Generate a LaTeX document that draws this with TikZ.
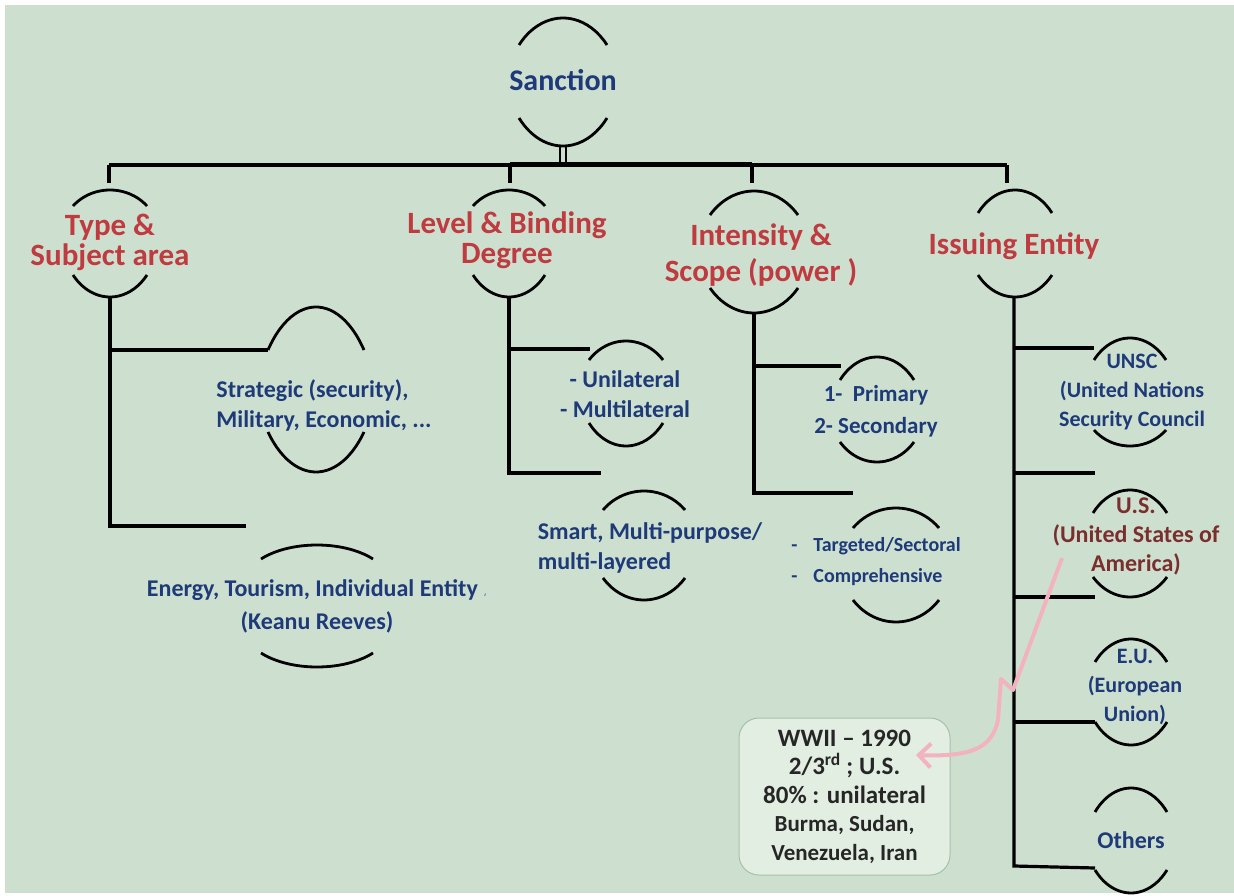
\documentclass[tikz,border=0pt]{standalone}
\usepackage{fontspec}
\setmainfont{Carlito}
\newfontfamily\arabicfont[Script=Arabic]{DejaVu Sans}
\usetikzlibrary{arrows.meta}
\definecolor{bg}{HTML}{CDE0D0}
\definecolor{headred}{HTML}{BF3B3F}
\definecolor{subblue}{HTML}{1E3A78}
\definecolor{usred}{HTML}{7B2E2E}
\definecolor{boxfill}{HTML}{E3EEE3}
\definecolor{boxline}{HTML}{A6BFA8}
\definecolor{pinkline}{HTML}{F2B3BE}
\definecolor{boxtext}{HTML}{262626}
\newcommand\cutnode[7]{%
  \pgfmathsetmacro\cnra{#3/cos(40)}%
  \pgfmathsetmacro\cnrbt{(#4-#5)/(1-sin(40))}%
  \pgfmathsetmacro\cnrbb{(#7-#6)/(1-sin(40))}%
  \coordinate (#1-top) at (#2,#5);
  \coordinate (#1-bot) at (#2,#7);
  \coordinate (#1-tl) at (#2-#3,#4);
  \coordinate (#1-bl) at (#2-#3,#6);
  \draw[arcline] (#1-tl) arc[start angle=220,end angle=320,x radius=\cnra,y radius=\cnrbt];
  \draw[arcline] (#1-bl) arc[start angle=140,end angle=40,x radius=\cnra,y radius=\cnrbb];
}
\begin{document}
\begin{tikzpicture}[x=1pt,y=-1pt,
  conn/.style={line width=3.2pt,black},
  arcline/.style={line width=2.8pt,black},
  head/.style={text=headred,font=\bfseries\fontsize{31}{30}\selectfont,align=center,inner sep=0pt},
  sub/.style={text=subblue,font=\bfseries\fontsize{24}{30}\selectfont,align=center,inner sep=0pt},
  pinkarrow/.style={line width=4pt,pinkline,line join=round,-{Straight Barb[length=12pt,width=24pt]}},
  notebox/.style={draw=boxline,line width=1pt,fill=boxfill,rounded corners=20pt,minimum width=211pt,minimum height=157pt,inner sep=0pt,align=center,text=boxtext,font=\bfseries\fontsize{25}{28.5}\selectfont}
]
\useasboundingbox (0,0) rectangle (1234,896);
\fill[white] (0,0) rectangle (1234,896);
\fill[bg] (5,5) rectangle (1234,893);

% cut circles
\cutnode{san}{563}{44}{45}{18}{118}{146}
\cutnode{typ}{110}{37}{206}{190}{275}{297}
\cutnode{lev}{509}{36}{206}{190}{275}{297}
\cutnode{int}{754}{44}{215}{191}{288}{313}
\cutnode{iss}{1015}{37}{213}{190}{275}{297}
\cutnode{str}{316}{48}{350}{307}{432}{472}
\cutnode{ene}{317}{56}{559}{545}{653}{667}
\cutnode{uni}{626}{37}{360}{341}{423}{446}
\cutnode{sma}{644}{41}{510}{491}{578}{600}
\cutnode{pri}{877}{37}{380}{357}{442}{462}
\cutnode{tar}{896}{43}{528}{508}{600}{622}
\cutnode{uns}{1130}{36}{360}{338}{430}{446}
\cutnode{uss}{1130}{37}{513}{490}{577}{597}
\cutnode{eun}{1131}{36}{662}{639}{722}{745}
\cutnode{oth}{1131}{36}{812}{788}{870}{893}

% bus coordinates
\coordinate (b1) at (109,165);
\coordinate (b2) at (510,165);
\coordinate (b3) at (752,165);
\coordinate (b4) at (1007,165);
\draw[conn,line width=2.4pt] ([xshift=-3pt]san-bot) -- ([xshift=-3pt]san-bot |- b1);
\draw[conn,line width=2.4pt] ([xshift=3pt]san-bot) -- ([xshift=3pt]san-bot |- b1);
\draw[conn] (b1) -- (b4);
\draw[conn] ([yshift=1.5pt]b2) -- ([yshift=1.5pt]b3);
\draw[conn] (b1) -- ++(0,18);
\draw[conn] (b2) -- ++(0,18);
\draw[conn] (b3) -- ++(0,18);
\draw[conn] (b4) -- ++(0,18);

% Type branch
\coordinate (typ-j1) at (110,350);
\coordinate (typ-j2) at (110,526);
\coordinate (ene-in) at (246,526);
\draw[conn] (typ-bot) -- (typ-j2) -- (ene-in);
\draw[conn] (typ-j1) -- (str-tl);
% Level branch
\coordinate (lev-j1) at (509,349);
\coordinate (lev-j2) at (509,473);
\coordinate (uni-in) at (590,349);
\coordinate (sma-in) at (601,473);
\draw[conn] (lev-bot) -- (lev-j2) -- (sma-in);
\draw[conn] (lev-j1) -- (uni-in);
% Intensity branch
\coordinate (int-j1) at (754,366);
\coordinate (int-j2) at (754,493);
\coordinate (pri-in) at (841,366);
\coordinate (tar-in) at (853,493);
\draw[conn] (int-bot) -- (int-j2) -- (tar-in);
\draw[conn] (int-j1) -- (pri-in);
% Issuing branch
\coordinate (iss-j1) at (1014,348);
\coordinate (iss-j2) at (1014,473);
\coordinate (iss-j3) at (1014,597);
\coordinate (iss-j4) at (1014,722);
\coordinate (iss-j5) at (1014,866);
\coordinate (oth-in) at (1095,868);
\draw[conn] ([xshift=-1pt]iss-bot) -- (iss-j5) -- (oth-in);
\draw[conn] (iss-j1) -- (1094,348);
\draw[conn] (iss-j2) -- (1095,473);
\draw[conn] (iss-j3) -- (1095,597);
\draw[conn] (iss-j4) -- (eun-bl);

% note box and arrow
\node[notebox] (note) at (844.5,796.5) {WWII -- 1990\\2/3\textsuperscript{rd} ; U.S.\\80\% : unilateral\\{\fontsize{23}{26}\selectfont Burma, Sudan,}\\{\fontsize{23}{26}\selectfont Venezuela, Iran}};
\coordinate (arrstart) at (1062,558);
\coordinate (arrtip) at (916,755);
\draw[pinkarrow] (arrstart) -- (1013,690) -- (1001,679) -- (998,720) .. controls (992,748) and (972,757) .. (arrtip);

% texts
\node[head,text=subblue,font=\bfseries\fontsize{30}{30}\selectfont] (sanction) at (563,80) {Sanction};
\node[head] (type) at (110,242) {Type \&\\Subject area};
\node[head] (level) at (507,240) {Level \& Binding\\Degree};
\node[head,font=\bfseries\fontsize{31}{36}\selectfont] (intensity) at (761,255) {Intensity \&\\Scope (power )};
\node[head] (issuing) at (1014,246) {Issuing Entity};
\node[sub,align=left] (strategic) at (324,405) {Strategic (security),\\Military, Economic, ...};
\node[sub,font=\bfseries\fontsize{24}{33}\selectfont] (energy) at (317,606) {Energy, Tourism, Individual Entity {\arabicfont\mdseries\fontsize{12}{12}\selectfont\color{subblue!60}،}\\(Keanu Reeves)};
\node[sub] (unilateral) at (625,394) {- Unilateral\\- Multilateral};
\node[sub,align=left] (smart) at (650,548) {Smart, Multi-purpose/\\multi-layered};
\node[sub,font=\bfseries\fontsize{23}{32}\selectfont] (primary) at (876,411) {1-\ \ Primary\\2- Secondary};
\node[sub,align=left,font=\bfseries\fontsize{20}{31}\selectfont] (targeted) at (876,562) {-\hspace{16pt}Targeted/Sectoral\\-\hspace{16pt}Comprehensive};
\node[sub,font=\bfseries\fontsize{22}{29}\selectfont] (unsc) at (1132,392) {UNSC\\(United Nations\\Security Council};
\node[sub,text=usred,font=\bfseries\fontsize{24}{29}\selectfont] (us) at (1136,536) {U.S.\\(United States of\\America)};
\node[sub,font=\bfseries\fontsize{22}{29}\selectfont] (eu) at (1135,687) {E.U.\\(European\\Union)};
\node[sub] (others) at (1131,840) {Others};
\end{tikzpicture}
\end{document}
